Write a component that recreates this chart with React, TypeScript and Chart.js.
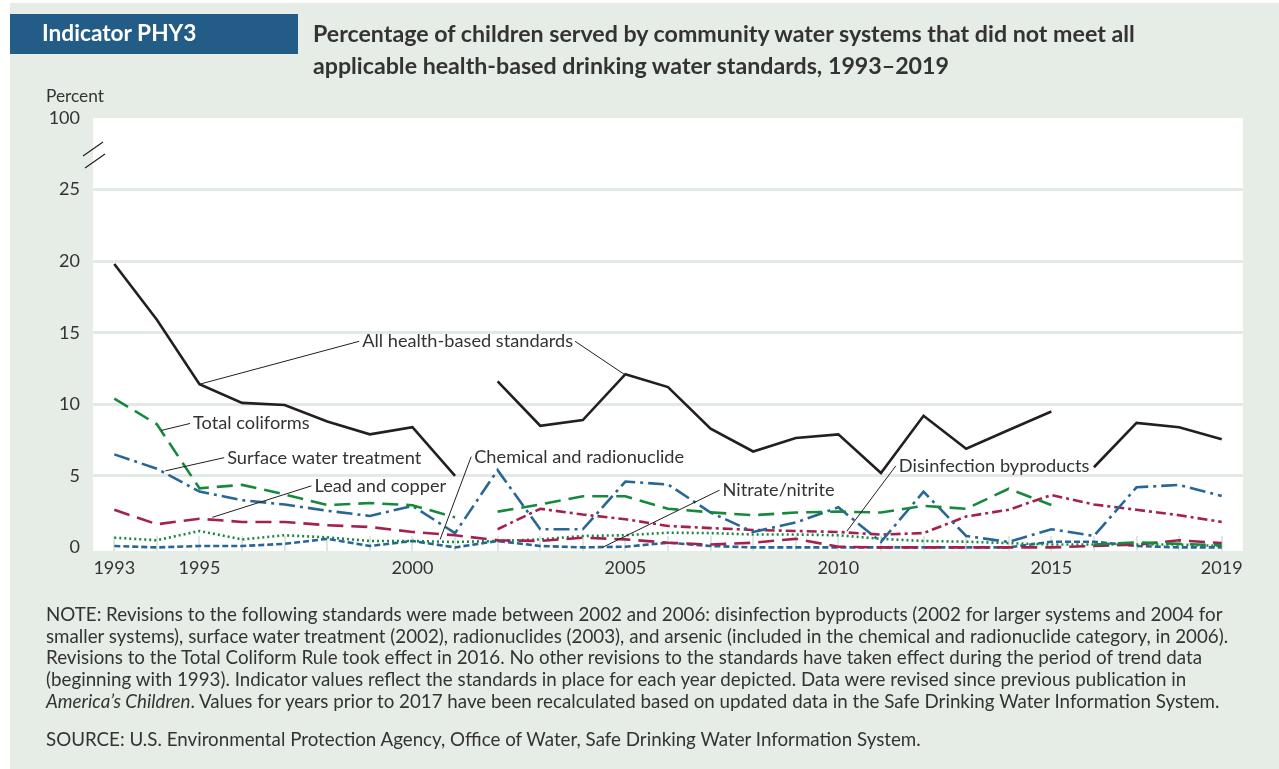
import React, { useEffect, useRef } from "react";
import { Chart, registerables } from "chart.js";

Chart.register(...registerables);

// ---------------- data ----------------
const years = [1993, 1994, 1995, 1996, 1997, 1998, 1999, 2000, 2001, 2002, 2003, 2004, 2005, 2006, 2007, 2008, 2009, 2010, 2011, 2012, 2013, 2014, 2015, 2016, 2017, 2018, 2019];

const allHealthBased = [19.8, 15.9, 11.4, 10.1, 9.95, 8.8, 7.9, 8.4, 5.0, 11.6, 8.5, 8.9, 12.1, 11.2, 8.3, 6.7, 7.65, 7.9, 5.2, 9.2, 6.9, 8.2, 9.5, 5.6, 8.7, 8.4, 7.55];
const totalColiforms = [10.4, 8.6, 4.13, 4.37, 3.7, 2.96, 3.1, 2.95, 2.1, 2.5, 3.0, 3.57, 3.57, 2.7, 2.45, 2.25, 2.44, 2.5, 2.44, 2.9, 2.7, 4.1, 2.96, 0.2, 0.35, 0.25, 0.15];
const surfaceWater = [6.5, 5.5, 3.9, 3.3, 3.0, 2.56, 2.2, 2.9, 1.0, 5.4, 1.27, 1.27, 4.6, 4.4, 2.44, 1.08, 1.74, 2.8, 0.38, 3.9, 0.8, 0.38, 1.27, 0.8, 4.2, 4.37, 3.6];
const leadCopper = [2.63, 1.62, 2.0, 1.78, 1.78, 1.55, 1.43, 1.08, 0.85, 0.5, 0.45, 0.68, 0.56, 0.33, 0.2, 0.33, 0.6, 0.05, 0.0, 0.0, 0.0, 0.0, 0.0, 0.1, 0.2, 0.5, 0.3];
const disinfection = [null, null, null, null, null, null, null, null, null, 1.27, 2.7, 2.3, 1.97, 1.5, 1.35, 1.22, 1.15, 1.08, 0.9, 1.0, 2.16, 2.63, 3.66, 3.0, 2.63, 2.25, 1.78];
const chemicalRadio = [0.68, 0.5, 1.15, 0.56, 0.85, 0.7, 0.45, 0.45, 0.38, 0.45, 0.56, 0.8, 0.85, 1.03, 1.0, 0.9, 0.9, 0.85, 0.6, 0.45, 0.4, 0.3, 0.2, 0.2, 0.2, 0.2, 0.1];
const nitrate = [0.1, 0.0, 0.1, 0.1, 0.25, 0.6, 0.1, 0.45, 0.0, 0.45, 0.1, 0.0, 0.05, 0.33, 0.1, 0.0, 0.0, 0.0, 0.0, 0.0, 0.0, 0.0, 0.4, 0.4, 0.1, 0.0, 0.0];

// years after which the series is broken (standards revised)
const allHealthBreaks = [2001, 2015];
const coliformBreaks = [2001, 2015];

const xTickYears = [1993, 1995, 2000, 2005, 2010, 2015, 2019];
const yTickValues = [0, 5, 10, 15, 20, 25, 30];
const yTickLabels = ["0", "5", "10", "15", "20", "25", "100"];

// ---------------- style ----------------
const FONT = "Lato, 'Noto Sans', sans-serif";
const GREEN_BG = "#e6ede7";
const TEXT = "#333333";
const C_BLACK = "#231f20";
const C_GREEN = "#17893d";
const C_BLUE = "#276695";
const C_RED = "#a4214f";

function fitSize(text: string, weight: string, target: number, style = "normal") {
  const c = document.createElement("canvas").getContext("2d")!;
  c.font = `${style} ${weight} 100px ${FONT}`;
  const w = c.measureText(text).width || 1;
  return (100 * target) / w;
}

type Ann = { text: string; tx: number; ty: number; from: [number, number]; toEnd?: [number, number] };
const annotations: Ann[] = [
  { text: "All health-based standards", tx: 1998.82, ty: 14.4, from: [1995, 11.4], toEnd: [2004.97, 12.1] },
  { text: "Total coliforms", tx: 1994.85, ty: 8.66, from: [1994.1, 8.17] },
  { text: "Surface water treatment", tx: 1995.65, ty: 6.27, from: [1994.2, 5.35] },
  { text: "Lead and copper", tx: 1997.7, ty: 4.3, from: [1995.3, 2.1] },
  { text: "Chemical and radionuclide", tx: 2001.45, ty: 6.34, from: [2000.65, 0.56] },
  { text: "Nitrate/nitrite", tx: 2007.28, ty: 4.0, from: [2004.46, 0.0] },
  { text: "Disinfection byproducts", tx: 2011.42, ty: 5.7, from: [2010.2, 1.13] },
];

function pts(vals: (number | null)[]) {
  return years.map((y, i) => ({ x: y, y: vals[i] }));
}

function seg(color: string, breaks: number[]) {
  return {
    borderColor: (ctx: any) => (breaks.includes(years[ctx.p0DataIndex]) ? "rgba(0,0,0,0)" : color),
  };
}

const decorPlugin = {
  id: "decor",
  beforeDraw(chart: any) {
    const { ctx, chartArea: a } = chart;
    ctx.save();
    ctx.fillStyle = "#ffffff";
    ctx.fillRect(a.left, a.top, a.right - a.left, a.bottom - a.top);
    ctx.restore();
  },
  beforeDatasetsDraw(chart: any) {
    const { ctx, chartArea: a, scales } = chart;
    ctx.save();
    ctx.strokeStyle = "#dfe7e1";
    ctx.lineWidth = 2;
    for (const y of years) {
      const px = Math.round(scales.x.getPixelForValue(y));
      ctx.beginPath();
      ctx.moveTo(px, a.bottom);
      ctx.lineTo(px, a.bottom - 15);
      ctx.stroke();
    }
    ctx.restore();
  },
  afterDatasetsDraw(chart: any) {
    const { ctx, chartArea: a, scales } = chart;
    const X = (v: number) => scales.x.getPixelForValue(v);
    const Y = (v: number) => scales.y.getPixelForValue(v);
    const size = fitSize("All health-based standards", "normal", 211);
    ctx.save();
    ctx.font = `normal ${size}px ${FONT}`;
    ctx.textBaseline = "middle";
    ctx.textAlign = "left";
    for (const an of annotations) {
      const tx = X(an.tx);
      const ty = Y(an.ty);
      const w = ctx.measureText(an.text).width;
      ctx.strokeStyle = C_BLACK;
      ctx.lineWidth = 1;
      ctx.beginPath();
      ctx.moveTo(X(an.from[0]), Y(an.from[1]));
      ctx.lineTo(tx - 3, ty);
      ctx.stroke();
      if (an.toEnd) {
        ctx.beginPath();
        ctx.moveTo(tx + w + 2, ty);
        ctx.lineTo(X(an.toEnd[0]), Y(an.toEnd[1]));
        ctx.stroke();
      }
      ctx.fillStyle = TEXT;
      ctx.fillText(an.text, tx, ty);
    }
    // axis break marks
    ctx.strokeStyle = C_BLACK;
    ctx.lineWidth = 1.2;
    const l = a.left;
    ctx.beginPath();
    ctx.moveTo(l - 10, a.top + 38);
    ctx.lineTo(l + 10, a.top + 24);
    ctx.moveTo(l - 8, a.top + 50);
    ctx.lineTo(l + 12, a.top + 36);
    ctx.stroke();
    ctx.restore();
  },
};

export default function App() {
  const ref = useRef<HTMLCanvasElement>(null);

  useEffect(() => {
    document.body.style.margin = "0";
    const lw = 2.6;
    const chart = new Chart(ref.current!, {
      type: "line",
      data: {
        datasets: [
          { label: "All health-based standards", data: pts(allHealthBased), borderColor: C_BLACK, borderWidth: lw, pointRadius: 0, segment: seg(C_BLACK, allHealthBreaks) },
          { label: "Total coliforms", data: pts(totalColiforms), borderColor: C_GREEN, borderWidth: lw, borderDash: [16, 8], pointRadius: 0, segment: seg(C_GREEN, coliformBreaks) },
          { label: "Surface water treatment", data: pts(surfaceWater), borderColor: C_BLUE, borderWidth: lw, borderDash: [16, 5, 3, 5], pointRadius: 0 },
          { label: "Lead and copper", data: pts(leadCopper), borderColor: C_RED, borderWidth: lw, borderDash: [16, 8], pointRadius: 0 },
          { label: "Disinfection byproducts", data: pts(disinfection), borderColor: C_RED, borderWidth: lw, borderDash: [10, 4, 3, 4], pointRadius: 0 },
          { label: "Chemical and radionuclide", data: pts(chemicalRadio), borderColor: C_GREEN, borderWidth: lw, borderDash: [2, 3], pointRadius: 0 },
          { label: "Nitrate/nitrite", data: pts(nitrate), borderColor: C_BLUE, borderWidth: lw, borderDash: [6, 3], pointRadius: 0 },
        ] as any,
      },
      options: {
        responsive: false,
        animation: false,
        devicePixelRatio: 1,
        layout: { padding: { top: 118, right: 36, left: 0, bottom: 0 } },
        plugins: { legend: { display: false }, tooltip: { enabled: false } },
        scales: {
          x: {
            type: "linear",
            min: 1992.5,
            max: 2019.5,
            afterBuildTicks: (s: any) => { s.ticks = xTickYears.map((v) => ({ value: v })); },
            afterFit: (s: any) => { s.height = 218; },
            grid: { display: false, drawTicks: false },
            border: { display: false },
            ticks: { padding: 6, color: TEXT, font: { family: FONT, size: 18 }, callback: (v: any) => String(v), maxRotation: 0, autoSkip: false },
          },
          y: {
            type: "linear",
            min: -0.25,
            max: 30,
            afterBuildTicks: (s: any) => { s.ticks = yTickValues.map((v) => ({ value: v })); },
            afterFit: (s: any) => { s.width = 93; },
            grid: {
              drawTicks: false,
              lineWidth: 3,
              color: (c: any) => (c.tick && (c.tick.value === 0 || c.tick.value === 30) ? "rgba(0,0,0,0)" : "#e3eae5"),
            },
            border: { display: false },
            ticks: {
              padding: 13,
              color: TEXT,
              font: { family: FONT, size: 18 },
              callback: (v: any) => { const i = yTickValues.indexOf(Number(v)); return i >= 0 ? yTickLabels[i] : ""; },
            },
          },
        },
      } as any,
      plugins: [decorPlugin],
    });
    return () => chart.destroy();
  }, []);

  const titleSize = fitSize("Percentage of children served by community water systems that did not meet all", "bold", 825);
  const headSize = fitSize("Indicator PHY3", "bold", 155);
  const percentSize = fitSize("Percent", "normal", 58);
  const noteSize = fitSize("NOTE: Revisions to the following standards were made between 2002 and 2006: disinfection byproducts (2002 for larger systems and 2004 for", "normal", 1178);

  const noteLines: React.ReactNode[] = [
    "NOTE: Revisions to the following standards were made between 2002 and 2006: disinfection byproducts (2002 for larger systems and 2004 for",
    "smaller systems), surface water treatment (2002), radionuclides (2003), and arsenic (included in the chemical and radionuclide category, in 2006).",
    "Revisions to the Total Coliform Rule took effect in 2016. No other revisions to the standards have taken effect during the period of trend data",
    "(beginning with 1993). Indicator values reflect the standards in place for each year depicted. Data were revised since previous publication in",
    <span><i>America’s Children</i>. Values for years prior to 2017 have been recalculated based on updated data in the Safe Drinking Water Information System.</span>,
  ];
  const noteCenters = [614, 635.7, 657.4, 679.1, 700.8];

  const abs = (left: number, centerY: number, lh: number): React.CSSProperties => ({
    position: "absolute", left, top: centerY - lh / 2, lineHeight: lh + "px", height: lh, whiteSpace: "nowrap",
  });

  return (
    <div style={{ position: "relative", width: 1279, height: 769, background: "#ffffff", overflow: "hidden", fontFamily: FONT, color: TEXT }}>
      <div style={{ position: "absolute", left: 10, top: 3, right: 0, bottom: 0, background: GREEN_BG }} />
      <canvas ref={ref} width={1279} height={769} style={{ position: "absolute", left: 0, top: 0 }} />
      <div style={{ position: "absolute", left: 10, top: 14, width: 288, height: 40, background: "#225c87" }} />
      <div style={{ ...abs(42, 33, 30), color: "#ffffff", fontWeight: "bold", fontSize: headSize }}>Indicator PHY3</div>
      <div style={{ ...abs(313, 33, 30), fontWeight: "bold", fontSize: titleSize, color: "#333333" }}>Percentage of children served by community water systems that did not meet all</div>
      <div style={{ ...abs(313, 64.5, 30), fontWeight: "bold", fontSize: titleSize, color: "#333333" }}>applicable health-based drinking water standards, 1993–2019</div>
      <div style={{ ...abs(46, 96, 20), fontSize: percentSize }}>Percent</div>
      {noteLines.map((t, i) => (
        <div key={i} style={{ ...abs(46, noteCenters[i], 22), fontSize: noteSize }}>{t}</div>
      ))}
      <div style={{ ...abs(46, 739, 22), fontSize: noteSize }}>SOURCE: U.S. Environmental Protection Agency, Office of Water, Safe Drinking Water Information System.</div>
    </div>
  );
}
